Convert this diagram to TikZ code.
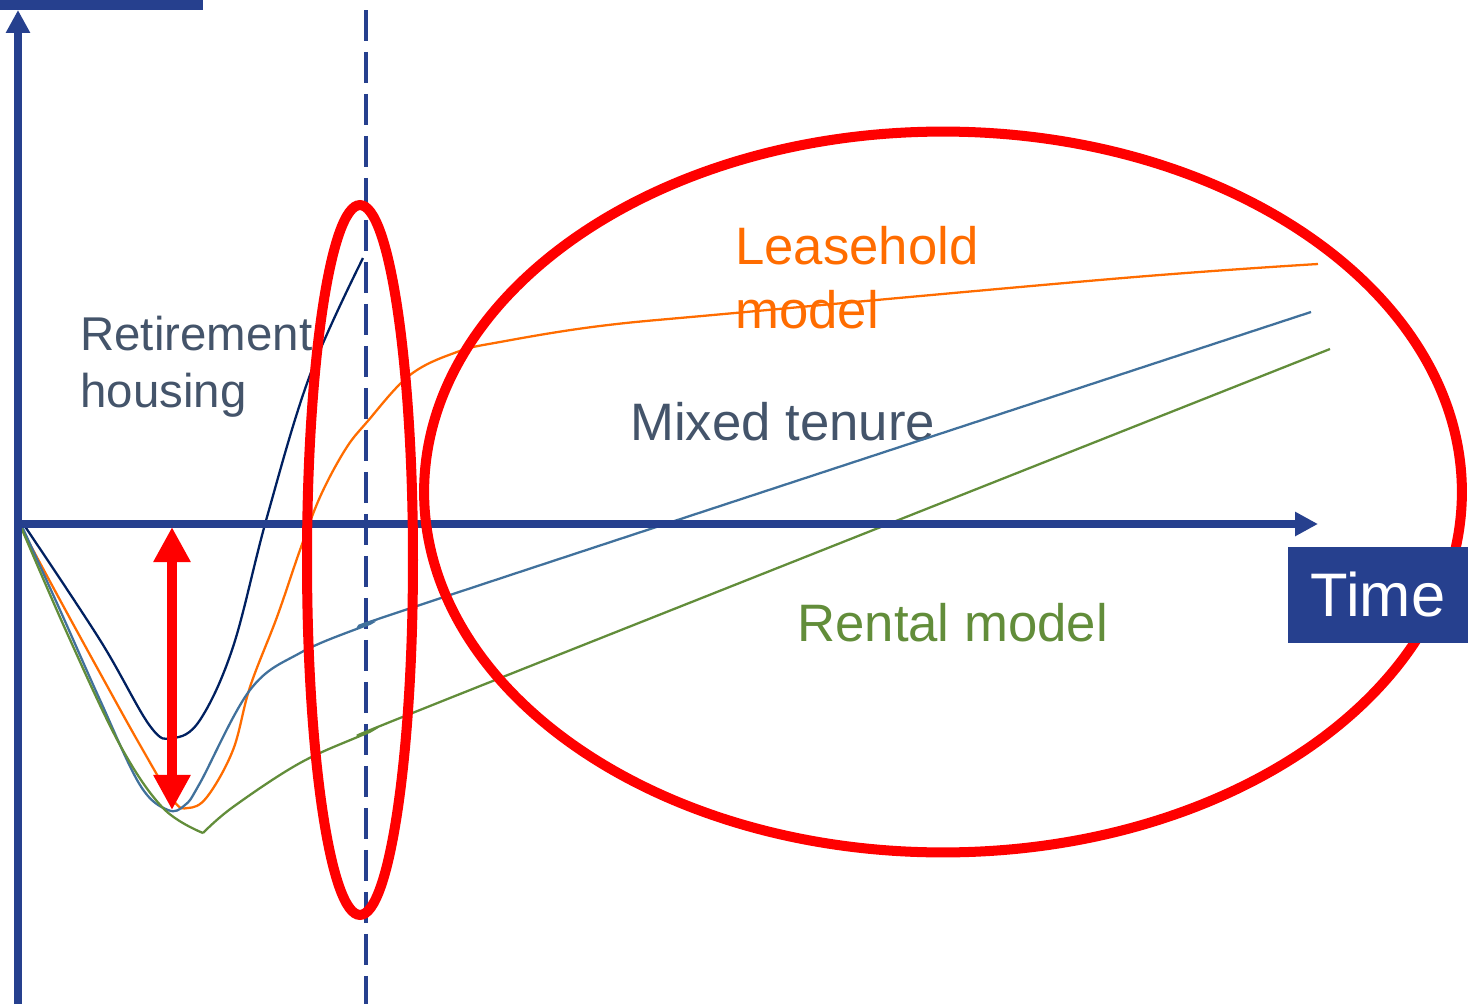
\documentclass[tikz,border=0pt]{standalone}
\usepackage{fontspec}
\setmainfont{Liberation Sans}
\usetikzlibrary{arrows.meta}
\definecolor{axisblue}{RGB}{38,64,142}
\definecolor{navyline}{RGB}{0,32,96}
\definecolor{leaseorange}{RGB}{255,108,0}
\definecolor{mixedblue}{RGB}{65,113,156}
\definecolor{rentgreen}{RGB}{98,141,58}
\definecolor{labelgrey}{RGB}{68,84,106}
\begin{document}
\begin{tikzpicture}[x=0.02cm,y=-0.02cm,
    axis/.style={axisblue,line width=4.5pt,-{Triangle[width=13pt,length=13pt]}},
    ring/.style={red,line width=5.7pt},
    curve/.style={line width=1.3pt,smooth,tension=0.6},
    lbl/.style={anchor=base west,align=left,inner sep=0pt,font=\fontsize{30}{36}\selectfont},
    timebox/.style={fill=axisblue,text=white,inner sep=0pt,minimum width=3.6cm,minimum height=1.92cm,font=\fontsize{35}{40}\selectfont}]
        \useasboundingbox (0,0) rectangle (1468,1004);
        \fill[axisblue] (0,0) rectangle (203,10);
        \draw[axisblue,line width=2.2pt,dash pattern=on 0.62cm off 0.22cm] (366,10)--(366,1004);
        % labels (base = last line)
        \node[lbl,labelgrey,font=\fontsize{27}{32}\selectfont] (retire) at (80,407) {Retirement\\housing};
        \node[lbl,leaseorange] (lease) at (735,328) {Leasehold\\model};
        \node[lbl,labelgrey] (mixed) at (630,440) {Mixed tenure};
        \node[lbl,rentgreen] (rental) at (797,641) {Rental model};
        % the four cost curves
        \draw[curve,navyline] plot coordinates {(22,522) (100,640) (150,726) (173,738) (200,720) (233,647) (267,517) (310,375) (363,258)};
        \draw[curve,leaseorange] plot coordinates {(18,522) (60,600) (100,673) (140,745) (173,800) (188,808) (207,797) (233,750) (250,687) (277,617) (300,550) (320,497) (345,450) (367,422) (410,375) (457,352) (500,342) (600,326) (735,313) (1123,278) (1318,264)};
        \draw[curve,mixedblue] plot coordinates {(20,522) (60,610) (100,700) (140,785) (168,810) (185,805) (200,783) (250,690) (300,653) (367,625) (450,595) (1311,312)};
        \draw[curve,rentgreen] plot coordinates {(18,520) (67,633) (120,745) (163,808) (203,833)} plot coordinates {(203,833) (233,807) (300,763) (367,733) (450,698) (1330,349)};
        % axes
        \coordinate (o) at (18,524);
        \coordinate (ytop) at (18,10);
        \coordinate (xend) at (1318,524);
        \draw[axis] (18,1004)--(ytop);
        \draw[axis] (o)--(xend);
        % gap at the bottom and the two periods
        \coordinate (gaptop) at (172,527);
        \coordinate (gapbot) at (172,810);
        \draw[red,line width=5.5pt,{Triangle[width=20pt,length=20pt]}-{Triangle[width=20pt,length=20pt]}] (gaptop)--(gapbot);
        \draw[ring] (360,560) ellipse [x radius=1.06cm, y radius=7.1cm];
        \draw[ring] (943,492) ellipse [x radius=10.38cm, y radius=7.21cm];
        \node[timebox] (time) at (1378,595) {Time};
\end{tikzpicture}
\end{document}
